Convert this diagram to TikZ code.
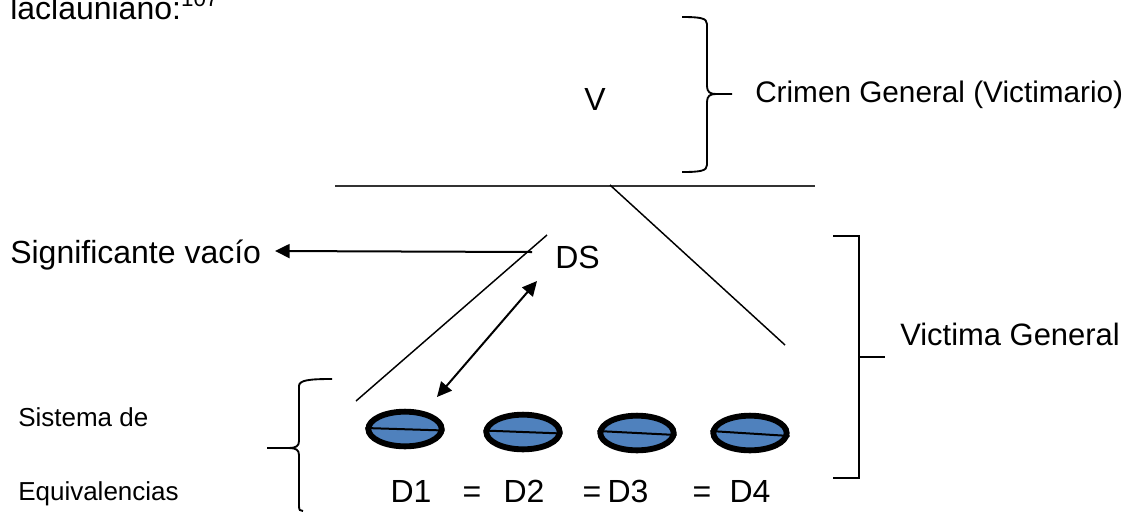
\documentclass[tikz,border=0pt]{standalone}
\usepackage{fontspec}
\setmainfont{Liberation Sans}
\usetikzlibrary{arrows.meta,shapes.geometric}
\definecolor{pillblue}{HTML}{4F81BD}
\begin{document}
\begin{tikzpicture}[x=0.75pt,y=-0.75pt,
  big/.style={font=\fontsize{24}{28}\selectfont, inner sep=0pt},
  mid/.style={font=\fontsize{22.3}{26}\selectfont, inner sep=0pt},
  small/.style={font=\fontsize{19.5}{23}\selectfont, inner sep=0pt},
  thin/.style={line width=1.1pt},
  arr/.style={line width=1.5pt},
  brace/.style={line width=1.4pt},
  tip/.style={-{Triangle[length=11pt,width=10.5pt]}},
  dtip/.style={{Triangle[length=11pt,width=10.5pt]}-{Triangle[length=11pt,width=10.5pt]}},
  pill/.style={draw=black, fill=pillblue, line width=4.4pt, ellipse, inner sep=0pt,
    minimum width=55pt, minimum height=26pt},
]
\useasboundingbox (0,0) rectangle (1129,512);

% top text (cut off)
\node[big, anchor=base west] (intro) at (10,19) {laclauniano:\textsuperscript{107}};

% V and right brace
\node[big] (V) at (595,99) {V};
\draw[brace] (682,17) .. controls (700,17) and (707,18) .. (707,24) -- (707,86)
  .. controls (707,92) and (710,94) .. (716,94) -- (732,94);
\draw[brace] (716,94) .. controls (710,94) and (707,96) .. (707,102) -- (707,165)
  .. controls (707,171) and (700,172) .. (682,172);
\node[mid, anchor=base west] (crimen) at (755,102) {Crimen General (Victimario)};

% horizontal bar
\coordinate (barL) at (335,186);
\coordinate (barR) at (815,186);
\draw[line width=1.5pt, black!80] (barL) -- (barR);

% diagonal from bar to right
\coordinate (diagA) at (610,185);
\coordinate (diagB) at (785,345);
\draw[thin] (diagA) -- (diagB);

% DS
\node[big, anchor=west] (DS) at (555,257) {DS};
\coordinate (arrS) at (532,252);
\node[big, anchor=west] (sig) at (10,255) {Significante vacío};
\coordinate (arrE) at (275,251);
\draw[arr, tip] (arrS) -- (arrE);

% long diagonal
\coordinate (lA) at (356,401);
\coordinate (lB) at (547,235);
\draw[thin] (lA) -- (lB);

% double arrow
\coordinate (dA) at (537,281);
\coordinate (dB) at (437,397);
\draw[arr, dtip] (dA) -- (dB);

% right bracket
\draw[brace] (833,236) -- (859,236) -- (859,478) -- (833,478);
\draw[brace] (859,357) -- (885,357);
\node[font=\fontsize{23.2}{27}\selectfont, inner sep=0pt, anchor=base west] (victima) at (900,345) {Victima General};

% left brace
\draw[brace] (332,379) .. controls (310,379) and (299,380) .. (299,386) -- (299,441)
  .. controls (299,446) and (296,448) .. (289,448) -- (267,448);
\draw[brace] (289,448) .. controls (296,448) and (299,450) .. (299,455) -- (299,506)
  .. controls (299,510) and (300,511) .. (303,511);
\node[small, anchor=west] (sis) at (18,417) {Sistema de};
\node[small, anchor=west] (eq) at (18,494) {Equivalencias};

% pills
\foreach \n/\cx/\cy/\a/\b in {1/405/429/-1/1.5, 2/523/432/-1.5/1.5, 3/637/433/-2/2, 4/750/433/-2/3}{
  \node[pill] (p\n) at (\cx,\cy) {};
  \draw[line width=1.5pt] ([shift={(0,\a)}]p\n.west) -- ([shift={(0,\b)}]p\n.east);
}

% equations
\node[big, anchor=base] (D1) at (411,502) {D1};
\node[big, anchor=base] (e1) at (472,502) {=};
\node[big, anchor=base] (D2) at (524,502) {D2};
\node[big, anchor=base] (e2) at (592,502) {=};
\node[big, anchor=base] (D3) at (628,502) {D3};
\node[big, anchor=base] (e3) at (702,502) {=};
\node[big, anchor=base] (D4) at (750,502) {D4};
\end{tikzpicture}
\end{document}
